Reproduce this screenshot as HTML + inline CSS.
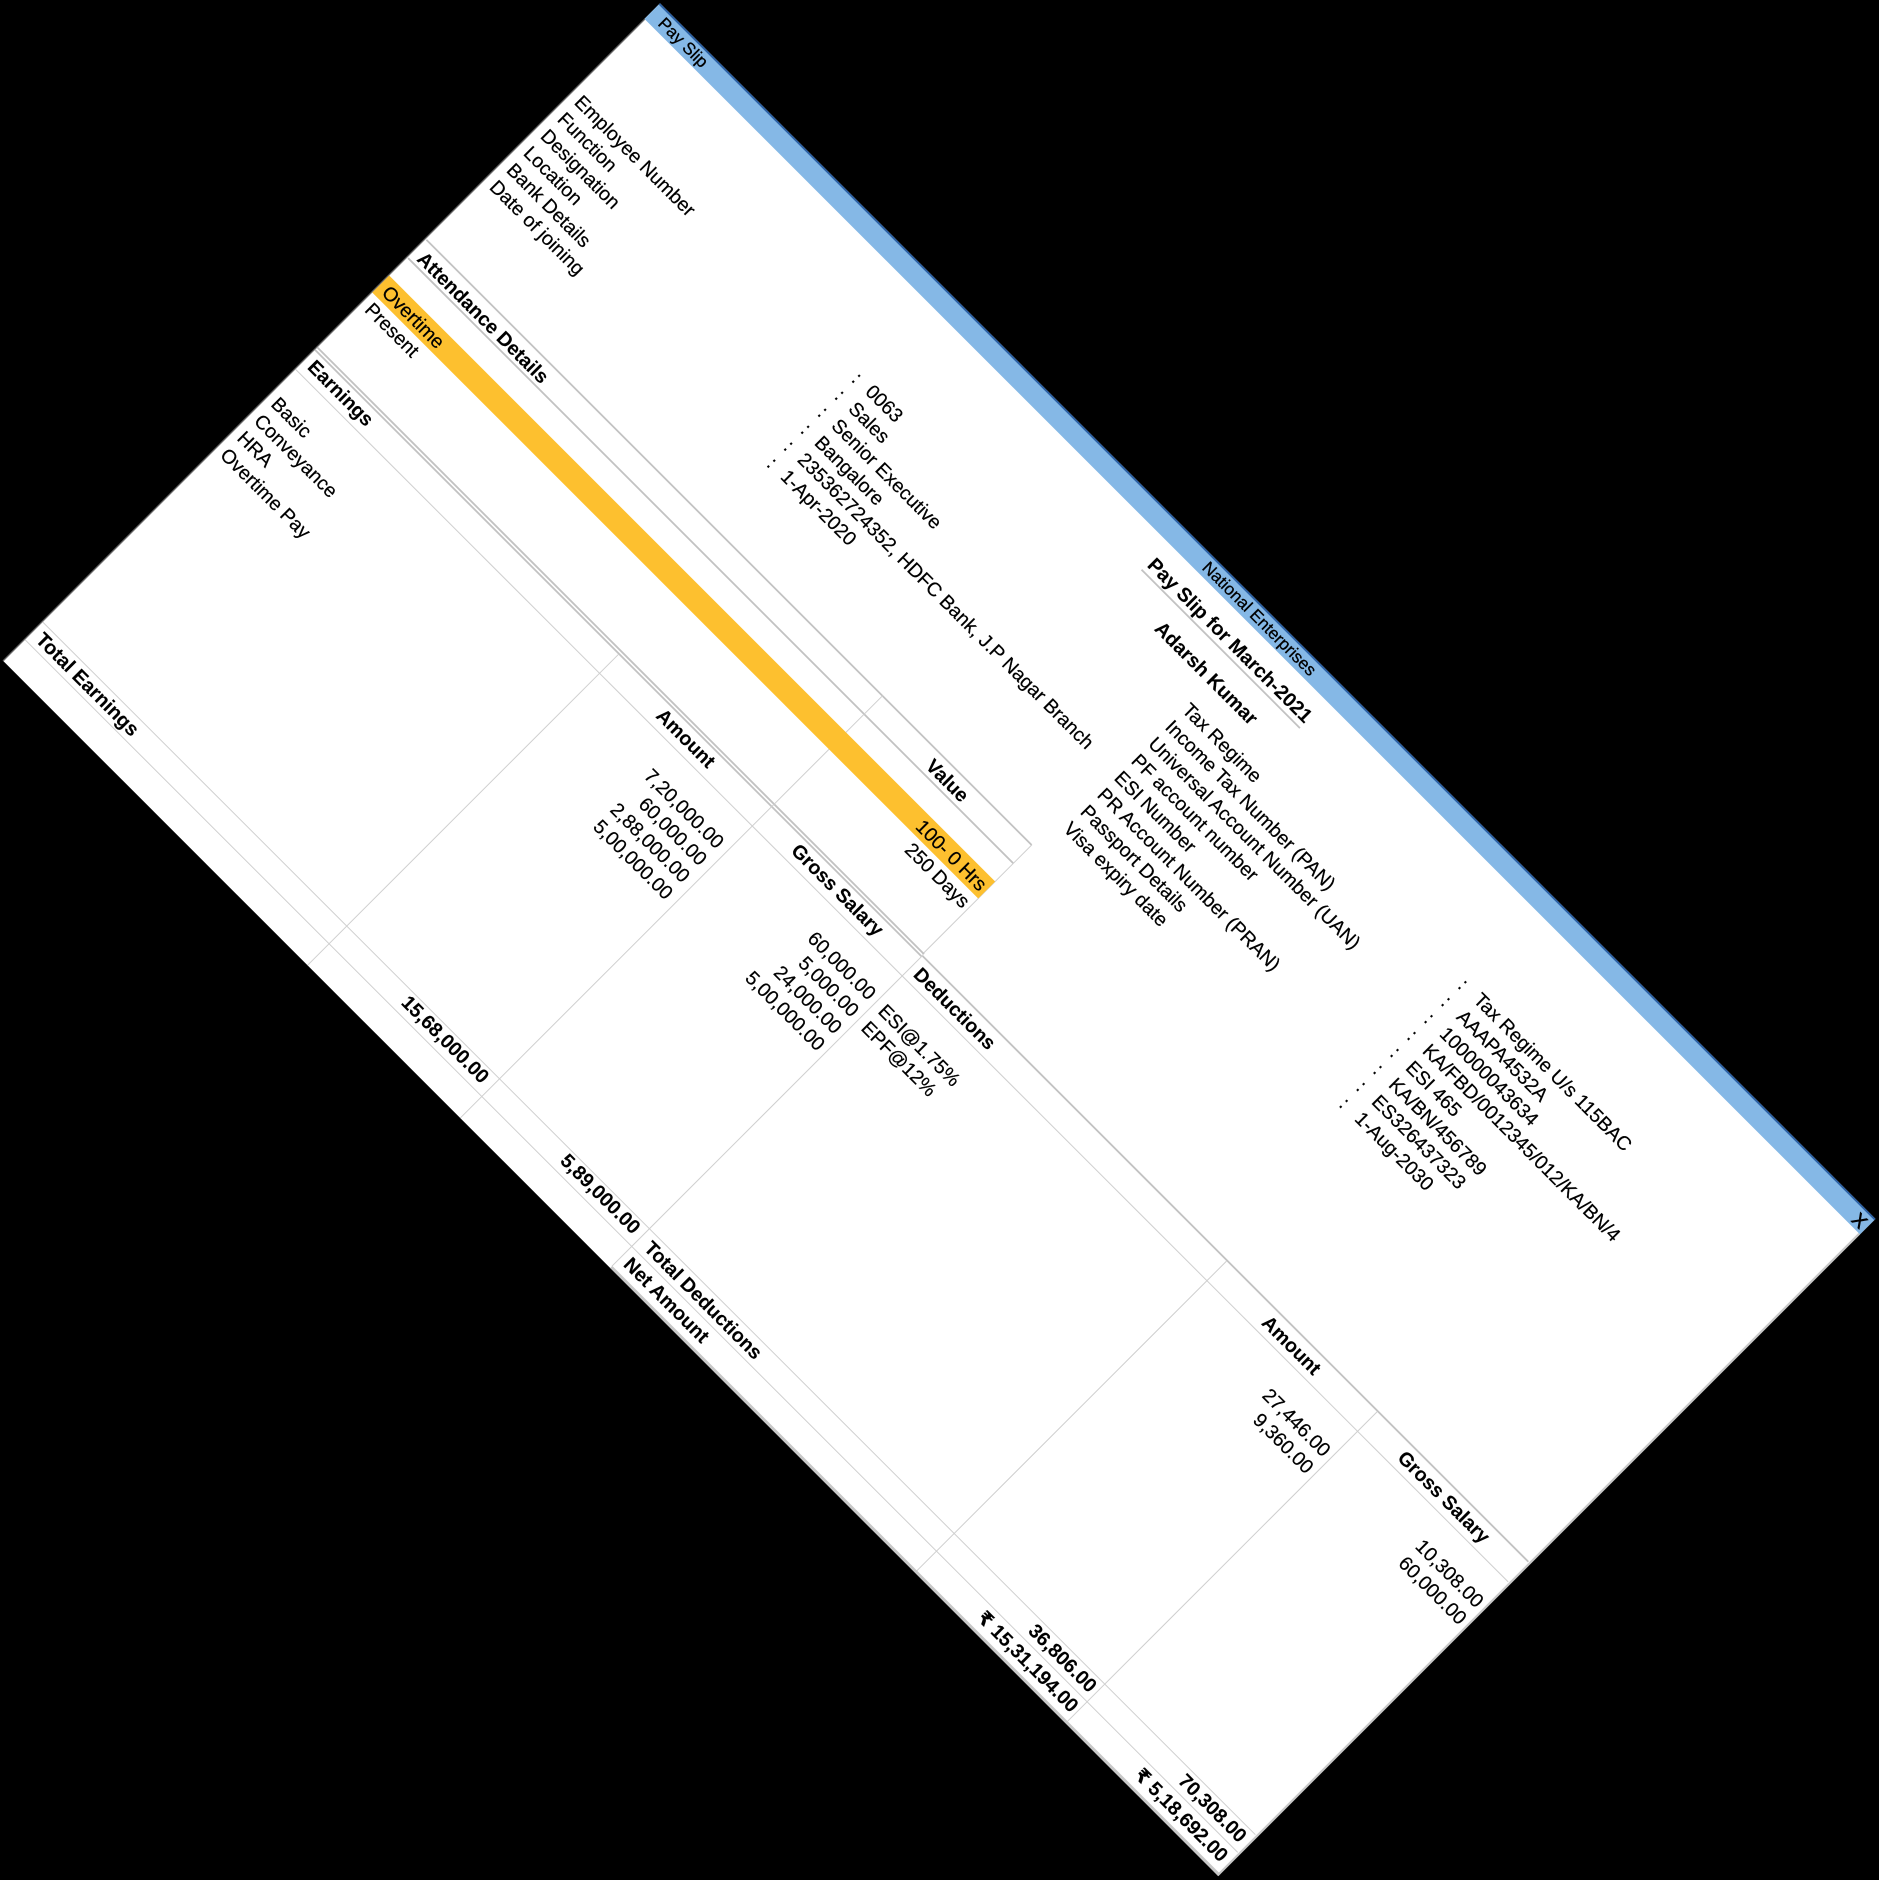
<!DOCTYPE html>
<html lang="en">
<head>
<meta charset="utf-8">
<title>Pay Slip</title>
<style>
html,body{margin:0;padding:0;background:#000;width:1879px;height:1880px;overflow:hidden}
svg{display:block}
text{font-family:"Liberation Sans","DejaVu Sans",sans-serif;font-size:19.5px;fill:#000;stroke:#000;stroke-width:.22;text-rendering:geometricPrecision}
.b{font-weight:bold;font-size:19.6px;stroke-width:.1}
.r{text-anchor:end}
.c{text-anchor:middle}
.t{font-size:17px;fill:#000;stroke:#000;stroke-width:.3}
.l{stroke:#cfcfcf;stroke-width:1}
.m{stroke:#c2c2c2;stroke-width:1.8}
</style>
</head>
<body>
<svg xmlns="http://www.w3.org/2000/svg" width="1879" height="1880" viewBox="0 0 1879 1880">
<g transform="translate(660,3.3) rotate(45)">
  <rect x="0" y="0" width="1719" height="929.5" fill="#fff"/>
  <rect x="0" y="0" width="1719" height="22" fill="#85b8e6"/>
  <rect x="0" y="0" width="1719" height="1.8" fill="#2b5fa3"/>
  <line x1="0.5" y1="22" x2="0.5" y2="929.5" stroke="#666" stroke-width="1.2"/>
  <line x1="1718" y1="22" x2="1718" y2="929.5" stroke="#c8c8c8" stroke-width="2.2"/>
  <line x1="859" y1="928" x2="1719" y2="928" stroke="#c8c8c8" stroke-width="3"/>

  <text class="t" x="13" y="17">Pay Slip</text>
  <text class="t c" x="859" y="17">National Enterprises</text>
  <text class="c" x="1709" y="19" style="font-size:19px;stroke-width:.6">X</text>

  <text class="b c" x="853.5" y="54" style="font-size:19.8px">Pay Slip for March-2021</text>
  <line class="m" x1="741" y1="60" x2="965" y2="60"/>
  <text class="b c" x="860" y="94" style="font-size:19.8px">Adarsh Kumar</text>

  <g>
    <text x="9.5" y="132">Employee Number</text>
    <text x="9.5" y="156">Function</text>
    <text x="9.5" y="180">Designation</text>
    <text x="9.5" y="204">Location</text>
    <text x="9.5" y="228">Bank Details</text>
    <text x="9.5" y="252">Date of joining</text>
  </g>
  <g>
    <text x="401.5" y="132">:</text>
    <text x="401.5" y="156">:</text>
    <text x="401.5" y="180">:</text>
    <text x="401.5" y="204">:</text>
    <text x="401.5" y="228">:</text>
    <text x="401.5" y="252">:</text>
  </g>
  <g>
    <text x="420" y="131">0063</text>
    <text x="420" y="155">Sales</text>
    <text x="420" y="179">Senior Executive</text>
    <text x="420" y="203">Bangalore</text>
    <text x="420" y="227">235362724352, HDFC Bank, J.P Nagar Branch</text>
    <text x="420" y="251">1-Apr-2020</text>
  </g>

  <g>
    <text x="869" y="132">Tax Regime</text>
    <text x="869" y="156">Income Tax Number (PAN)</text>
    <text x="869" y="180">Universal Account Number (UAN)</text>
    <text x="869" y="204">PF account number</text>
    <text x="869" y="228">ESI Number</text>
    <text x="869" y="252">PR Account Number (PRAN)</text>
    <text x="869" y="276">Passport Details</text>
    <text x="869" y="300">Visa expiry date</text>
  </g>
  <g>
    <text x="1259" y="132">:</text>
    <text x="1259" y="156">:</text>
    <text x="1259" y="180">:</text>
    <text x="1259" y="204">:</text>
    <text x="1259" y="228">:</text>
    <text x="1259" y="252">:</text>
    <text x="1259" y="276">:</text>
    <text x="1259" y="300">:</text>
  </g>
  <g>
    <text x="1280" y="131">Tax Regime U/s 115BAC</text>
    <text x="1280" y="155">AAAPA4532A</text>
    <text x="1280" y="179">100000043634</text>
    <text x="1280" y="203">KA/FBD/0012345/012/KA/BN/4</text>
    <text x="1280" y="227">ESI 465</text>
    <text x="1280" y="251">KA/BN/456789</text>
    <text x="1280" y="275">ES326437323</text>
    <text x="1280" y="299">1-Aug-2030</text>
  </g>

  <g>
    <line class="m" x1="2" y1="332.4" x2="858" y2="332.4"/>
    <line class="m" x1="2" y1="358.3" x2="858" y2="358.3"/>
    <line class="l" x1="858" y1="332" x2="858" y2="487"/>
    <line class="m" x1="1" y1="485.6" x2="859" y2="485.6"/>
    <line class="m" x1="1" y1="489" x2="859" y2="489"/>
    <line class="m" x1="859" y1="488" x2="1716" y2="488"/>
    <line class="l" x1="1" y1="516.5" x2="1716" y2="516.5"/>
    <line class="l" x1="1" y1="874" x2="1716" y2="874"/>
    <line class="l" x1="1" y1="899" x2="1716" y2="899"/>
    <line class="l" x1="431" y1="490" x2="431" y2="929.5"/>
    <line class="l" x1="647" y1="332" x2="647" y2="929.5"/>
    <line class="l" x1="859" y1="487" x2="859" y2="927"/>
    <line class="l" x1="1290" y1="489" x2="1290" y2="927"/>
    <line class="l" x1="1503" y1="489" x2="1503" y2="927"/>
  </g>

  <rect x="1" y="384" width="857" height="24" fill="#fdc02f"/>

  <g>
    <text class="b" x="9" y="354">Attendance Details</text>
    <text class="b r" x="778.5" y="353">Value</text>
    <text x="8" y="403">Overtime</text>
    <text class="r" x="854" y="403">100- 0 Hrs</text>
    <text x="8" y="427">Present</text>
    <text class="r" x="854" y="427">250 Days</text>
  </g>

  <g>
    <text class="b" x="8" y="508">Earnings</text>
    <text class="b r" x="575" y="508">Amount</text>
    <text class="b r" x="813" y="508">Gross Salary</text>
    <text x="8.5" y="560">Basic</text>
    <text x="8.5" y="584">Conveyance</text>
    <text x="8.5" y="608">HRA</text>
    <text x="8.5" y="632">Overtime Pay</text>
    <text class="r" x="638" y="559">7,20,000.00</text>
    <text class="r" x="638" y="583">60,000.00</text>
    <text class="r" x="638" y="607">2,88,000.00</text>
    <text class="r" x="638" y="631">5,00,000.00</text>
    <text class="r" x="852.5" y="558.5">60,000.00</text>
    <text class="r" x="852.5" y="582.5">5,000.00</text>
    <text class="r" x="852.5" y="606.5">24,000.00</text>
    <text class="r" x="852.5" y="630.5">5,00,000.00</text>
    <text class="b" x="8.5" y="893" style="font-size:19.9px">Total Earnings</text>
    <text class="b r" x="638" y="891">15,68,000.00</text>
    <text class="b r" x="851.5" y="890.5">5,89,000.00</text>
  </g>

  <g>
    <text class="b" x="866" y="509">Deductions</text>
    <text class="b r" x="1432.5" y="509">Amount</text>
    <text class="b r" x="1671" y="508.5">Gross Salary</text>
    <text x="867" y="560">ESI@1.75%</text>
    <text x="867" y="584">EPF@12%</text>
    <text class="r" x="1497" y="560">27,446.00</text>
    <text class="r" x="1497" y="584">9,360.00</text>
    <text class="r" x="1712" y="558.5">10,308.00</text>
    <text class="r" x="1712" y="582.5">60,000.00</text>
    <text class="b" x="869" y="893">Total Deductions</text>
    <text class="b r" x="1498.5" y="892">36,806.00</text>
    <text class="b r" x="1710.5" y="892">70,308.00</text>
    <text class="b" x="866" y="919" style="font-size:19.8px">Net Amount</text>
    <text class="b r" x="1499.5" y="919">₹ 15,31,194.00</text>
    <text class="b r" x="1711" y="919">₹ 5,18,692.00</text>
  </g>
</g>
</svg>
</body>
</html>
